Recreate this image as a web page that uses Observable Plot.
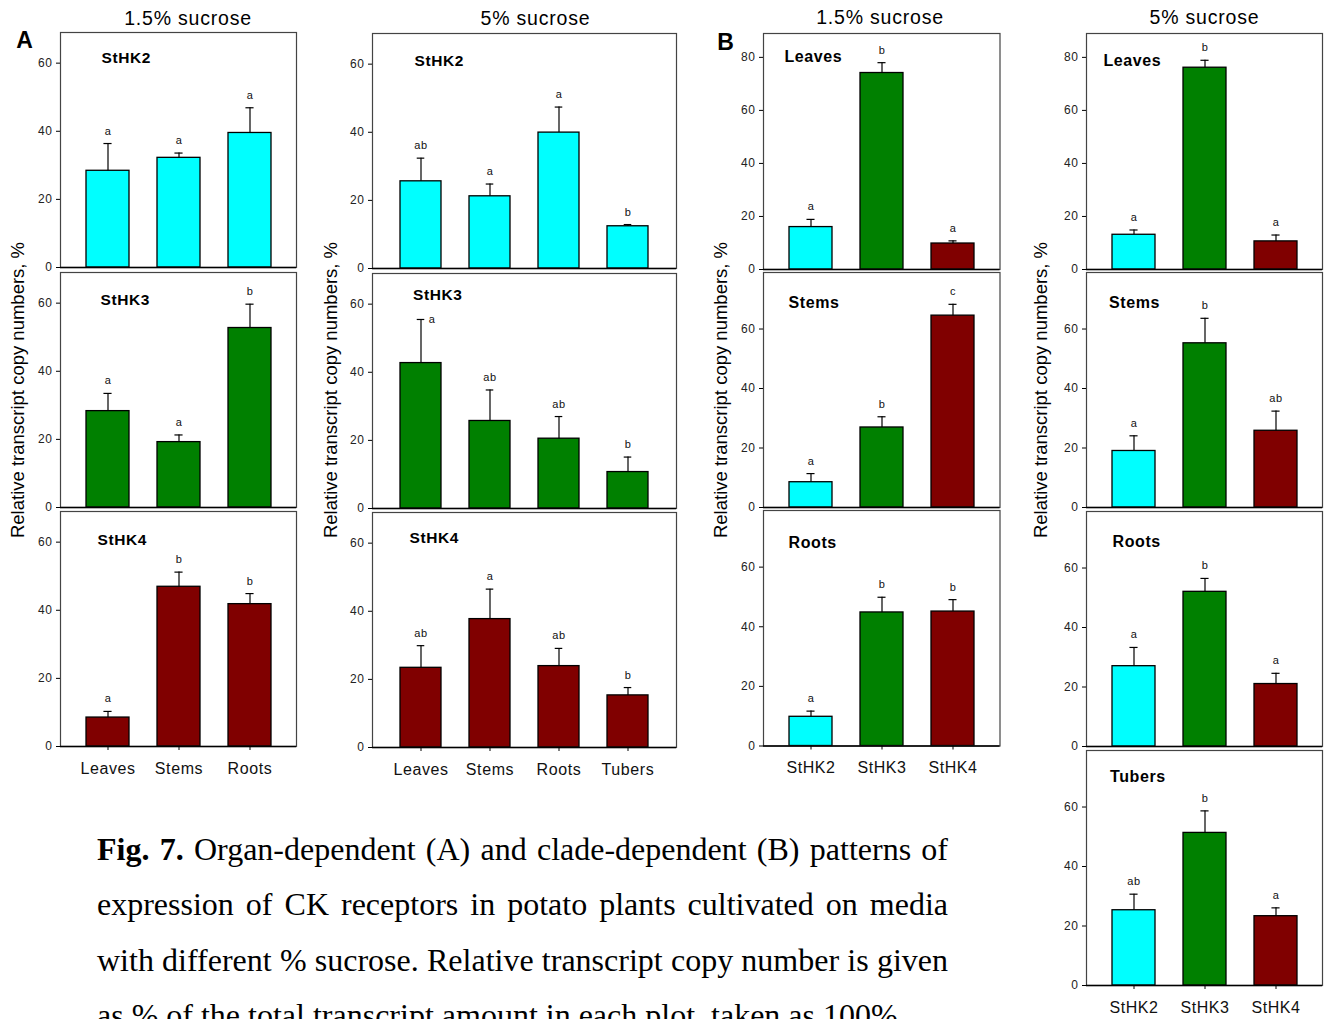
<!DOCTYPE html>
<html><head><meta charset="utf-8">
<script src="https://cdn.jsdelivr.net/npm/d3@7"></script>
<script src="https://cdn.jsdelivr.net/npm/@observablehq/plot@0.6"></script>
<style>
html,body{margin:0;padding:0;background:#fff;overflow:hidden;}
#fig{position:relative;width:1330px;height:1019px;overflow:hidden;font-family:"Liberation Sans",Arial,sans-serif;color:#000;}
.abs{position:absolute;white-space:nowrap;line-height:1;}
.cap{position:absolute;left:97px;top:822px;width:851px;font-family:"Liberation Serif","Times New Roman",serif;font-size:32px;line-height:55.3px;color:#000;}
.cap div{white-space:nowrap;}
.cap .j{text-align:justify;text-align-last:justify;white-space:normal;}
</style></head><body><div id="fig"></div>
<script>
// ---------- DATA ----------
const organsA15 = ["Leaves", "Stems", "Roots"];
const organsA5 = ["Leaves", "Stems", "Roots", "Tubers"];
const genes = ["StHK2", "StHK3", "StHK4"];
const geneColors = ["#00FFFF", "#008000", "#800000"];
const conditions = ["1.5% sucrose", "5% sucrose"];
const yTitle = "Relative transcript copy numbers, %";

// A: 1.5% sucrose (by organ)
const a15HK2Mean = [28.4, 32.2, 39.5];
const a15HK2Err  = [8.0, 1.4, 7.4];
const a15HK2Sig  = ["a", "a", "a"];
const a15HK3Mean = [28.3, 19.2, 52.7];
const a15HK3Err  = [5.2, 2.1, 7.0];
const a15HK3Sig  = ["a", "a", "b"];
const a15HK4Mean = [8.5, 46.9, 41.8];
const a15HK4Err  = [1.8, 4.3, 3.1];
const a15HK4Sig  = ["a", "b", "b"];

// A: 5% sucrose (by organ)
const a5HK2Mean = [25.6, 21.2, 39.9, 12.4];
const a5HK2Err  = [6.8, 3.6, 7.5, 0.5];
const a5HK2Sig  = ["ab", "a", "a", "b"];
const a5HK3Mean = [42.7, 25.7, 20.5, 10.7];
const a5HK3Err  = [12.8, 9.1, 6.5, 4.4];
const a5HK3Sig  = ["a", "ab", "ab", "b"];
const a5HK4Mean = [23.4, 37.7, 23.9, 15.3];
const a5HK4Err  = [6.5, 8.8, 5.2, 2.3];
const a5HK4Sig  = ["ab", "a", "ab", "b"];

// B: 1.5% sucrose (by gene)
const b15LeavesMean = [16.0, 74.1, 9.8];
const b15LeavesErr  = [2.9, 3.9, 1.0];
const b15LeavesSig  = ["a", "b", "a"];
const b15StemsMean  = [8.5, 26.9, 64.5];
const b15StemsErr   = [2.9, 3.6, 3.8];
const b15StemsSig   = ["a", "b", "c"];
const b15RootsMean  = [9.8, 44.8, 45.1];
const b15RootsErr   = [1.9, 5.1, 4.0];
const b15RootsSig   = ["a", "b", "b"];

// B: 5% sucrose (by gene)
const b5LeavesMean = [13.1, 76.1, 10.6];
const b5LeavesErr  = [1.8, 2.8, 2.4];
const b5LeavesSig  = ["a", "b", "a"];
const b5StemsMean  = [19.0, 55.2, 25.8];
const b5StemsErr   = [5.1, 8.4, 6.6];
const b5StemsSig   = ["a", "b", "ab"];
const b5RootsMean  = [27.0, 52.0, 21.0];
const b5RootsErr   = [6.3, 4.5, 3.6];
const b5RootsSig   = ["a", "b", "a"];
const b5TubersMean = [25.3, 51.3, 23.3];
const b5TubersErr  = [5.4, 7.4, 2.8];
const b5TubersSig  = ["ab", "b", "a"];

const captionLines = [
  ["Fig. 7.", " Organ-dependent (A) and clade-dependent (B) patterns of"],
  ["", "expression of CK receptors in potato plants cultivated on media"],
  ["", "with different % sucrose. Relative transcript copy number is given"],
  ["", "as % of the total transcript amount in each plot, taken as 100%."]
];

// ---------- LAYOUT ----------
const ticksA = [0, 20, 40, 60];
const ticksB80 = [0, 20, 40, 60, 80];
const fill = (n, c) => Array(n).fill(c);

const panels = [
  // A, 1.5%
  {id:"A15-2", label:"StHK2", cats:organsA15, mean:a15HK2Mean, err:a15HK2Err, sig:a15HK2Sig, colors:fill(3, geneColors[0]), box:[60,296,32,267], ymax:69, ticks:ticksA, lab:[41,26,15.5], po:0.352},
  {id:"A15-3", label:"StHK3", cats:organsA15, mean:a15HK3Mean, err:a15HK3Err, sig:a15HK3Sig, colors:fill(3, geneColors[1]), box:[60,296,271.5,506.5], ymax:69, ticks:ticksA, lab:[40,27.5,15.5], po:0.352},
  {id:"A15-4", label:"StHK4", cats:organsA15, mean:a15HK4Mean, err:a15HK4Err, sig:a15HK4Sig, colors:fill(3, geneColors[2]), box:[60,296,510.5,745.5], ymax:69, ticks:ticksA, lab:[37,28.5,15.5], po:0.352, xAxis:true},
  // A, 5%
  {id:"A5-2", label:"StHK2", cats:organsA5, mean:a5HK2Mean, err:a5HK2Err, sig:a5HK2Sig, colors:fill(4, geneColors[0]), box:[372,676,32.5,267.5], ymax:69, ticks:ticksA, lab:[42,28,15.5], po:0.4},
  {id:"A5-3", label:"StHK3", cats:organsA5, mean:a5HK3Mean, err:a5HK3Err, sig:a5HK3Sig, colors:fill(4, geneColors[1]), box:[372,676,272.5,507.5], ymax:69, ticks:ticksA, lab:[40.5,22,15.5], po:0.4},
  {id:"A5-4", label:"StHK4", cats:organsA5, mean:a5HK4Mean, err:a5HK4Err, sig:a5HK4Sig, colors:fill(4, geneColors[2]), box:[372,676,511.5,746.5], ymax:69, ticks:ticksA, lab:[37,26,15.5], po:0.4, xAxis:true},
  // B, 1.5%
  {id:"B15-L", label:"Leaves", cats:genes, mean:b15LeavesMean, err:b15LeavesErr, sig:b15LeavesSig, colors:geneColors, box:[763,999.5,32.5,268.5], ymax:89, ticks:ticksB80, lab:[21,23,16], po:0.352},
  {id:"B15-S", label:"Stems", cats:genes, mean:b15StemsMean, err:b15StemsErr, sig:b15StemsSig, colors:geneColors, box:[763,999.5,271.5,506.5], ymax:79, ticks:ticksA, lab:[25,30,16], po:0.352},
  {id:"B15-R", label:"Roots", cats:genes, mean:b15RootsMean, err:b15RootsErr, sig:b15RootsSig, colors:geneColors, box:[763,999.5,510,745.5], ymax:79, ticks:ticksA, lab:[25,32.5,16], po:0.352, xAxis:true},
  // B, 5%
  {id:"B5-L", label:"Leaves", cats:genes, mean:b5LeavesMean, err:b5LeavesErr, sig:b5LeavesSig, colors:geneColors, box:[1085.5,1321.5,32.5,268.5], ymax:89, ticks:ticksB80, lab:[17,27.5,16], po:0.352},
  {id:"B5-S", label:"Stems", cats:genes, mean:b5StemsMean, err:b5StemsErr, sig:b5StemsSig, colors:geneColors, box:[1085.5,1321.5,271.5,506.5], ymax:79, ticks:ticksA, lab:[22.5,30,16], po:0.352},
  {id:"B5-R", label:"Roots", cats:genes, mean:b5RootsMean, err:b5RootsErr, sig:b5RootsSig, colors:geneColors, box:[1085.5,1321.5,510.5,745.5], ymax:79, ticks:ticksA, lab:[26,30,16], po:0.352},
  {id:"B5-T", label:"Tubers", cats:genes, mean:b5TubersMean, err:b5TubersErr, sig:b5TubersSig, colors:geneColors, box:[1085.5,1321.5,750,985], ymax:79, ticks:ticksA, lab:[23.5,26.5,16], po:0.352, xAxis:true}
];

const fig = document.getElementById("fig");

function addText(txt, cx, cy, css) {
  const d = document.createElement("div");
  d.className = "abs";
  d.textContent = txt;
  d.style.left = cx + "px";
  d.style.top = cy + "px";
  d.style.transform = "translate(-50%,-50%)" + (css.rotate ? " rotate(-90deg)" : "");
  Object.assign(d.style, css.style || {});
  fig.appendChild(d);
}

const PI = 0.4;
function makePanel(p) {
  const [L, R, T, B] = p.box;
  const w = R - L, h = B - T;
  const ml = 45, mr = 4, mt = 4, mb = p.xAxis ? 40 : 4;
  const n = p.cats.length;
  const step = w / (n - PI + 2 * p.po);
  const bw = step * (1 - PI);
  const capInset = (bw - 8) / 2;
  const data = p.cats.map((c, i) => ({cat: c, mean: p.mean[i], top: p.mean[i] + p.err[i], sig: p.sig[i], color: p.colors[i], side: p.id === "A5-3" && i === 0}));
  const marks = [
    Plot.barY(data, {x: "cat", y: "mean", fill: "color", stroke: "#000", strokeWidth: 1.3}),
    Plot.ruleX(data, {x: "cat", y1: "mean", y2: "top", stroke: "#000", strokeWidth: 1.2}),
    Plot.tickY(data, {x: "cat", y: "top", stroke: "#000", strokeWidth: 1.2, insetLeft: capInset, insetRight: capInset}),
    Plot.frame({stroke: "#444", strokeWidth: 1.2}),
    Plot.ruleY([0], {stroke: "#000", strokeWidth: 1.7}),
    Plot.axisY(p.ticks, {tickSize: 4, tickPadding: 4, fontSize: 12, label: null, stroke: "#000", fill: "#222"}),
    Plot.text(data.filter(d => !d.side), {x: "cat", y: "top", text: "sig", dy: -9, lineAnchor: "bottom", fontSize: 11, fill: "#111"}),
    Plot.text(data.filter(d => d.side), {x: "cat", y: "top", text: "sig", dx: 11, lineAnchor: "middle", fontSize: 11, fill: "#111"}),
    Plot.text([p.label], {frameAnchor: "top-left", dx: p.lab[0], dy: p.lab[1], textAnchor: "start", lineAnchor: "middle", fontWeight: "bold", fontSize: p.lab[2], fill: "#000"})
  ];
  if (p.xAxis) marks.push(Plot.axisX({tickSize: 4, tickPadding: 12, fontSize: 16, label: null, stroke: "#000", fill: "#111"}));
  const svg = Plot.plot({
    width: w + ml + mr, height: h + mt + mb,
    marginLeft: ml, marginRight: mr, marginTop: mt, marginBottom: mb,
    x: {domain: p.cats, paddingInner: PI, paddingOuter: p.po, label: null, axis: p.xAxis ? undefined : null},
    y: {domain: [0, p.ymax], label: null},
    color: {type: "identity"},
    style: {fontFamily: '"Liberation Sans", Arial, sans-serif', background: "transparent", overflow: "visible", letterSpacing: "0.6px", maxWidth: "none"},
    marks
  });
  const holder = document.createElement("div");
  holder.style.position = "absolute";
  holder.style.left = (L - ml) + "px";
  holder.style.top = (T - mt) + "px";
  holder.appendChild(svg);
  fig.appendChild(holder);
}

panels.forEach(makePanel);

// column titles
const titleCss = {style: {fontSize: "19.5px", letterSpacing: "0.8px"}};
addText(conditions[0], 188, 18.5, titleCss);
addText(conditions[1], 535.5, 18.5, titleCss);
addText(conditions[0], 880, 17.5, titleCss);
addText(conditions[1], 1204.5, 17.5, titleCss);

// panel letters
addText("A", 24.5, 40, {style: {fontSize: "23px", fontWeight: "bold"}});
addText("B", 725.5, 41.5, {style: {fontSize: "23px", fontWeight: "bold"}});

// y-axis titles
const yCss = {rotate: true, style: {fontSize: "18.5px"}};
addText(yTitle, 17.5, 389.5, yCss);
addText(yTitle, 330.5, 389.5, yCss);
addText(yTitle, 720.5, 390, yCss);
addText(yTitle, 1041, 390, yCss);

// caption
const cap = document.createElement("div");
cap.className = "cap";
captionLines.forEach((ln, i) => {
  const d = document.createElement("div");
  if (i < 3) d.className = "j";
  if (ln[0]) {
    const b = document.createElement("b");
    b.textContent = ln[0];
    d.appendChild(b);
  }
  d.appendChild(document.createTextNode(ln[1]));
  cap.appendChild(d);
});
fig.appendChild(cap);
</script>
</body></html>
